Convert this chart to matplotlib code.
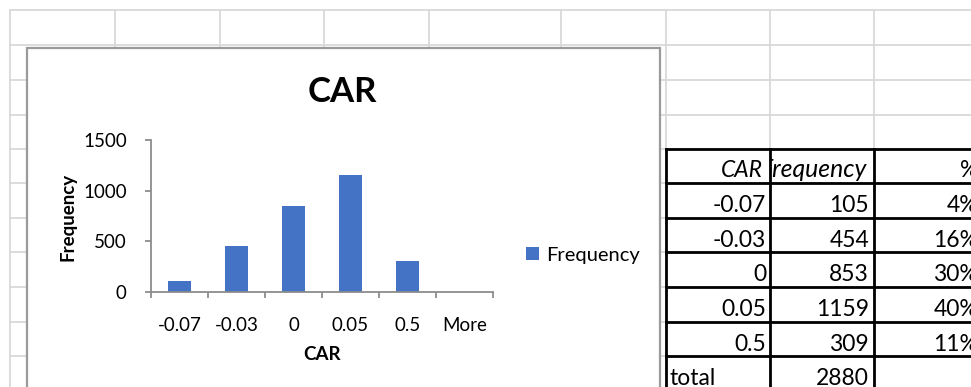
import matplotlib
matplotlib.use("Agg")
import matplotlib.pyplot as plt
from matplotlib.patches import Rectangle
import numpy as np

plt.rcParams["font.family"] = ["Lato", "DejaVu Sans"]

# histogram output: bins and counts
bins = ["-0.07", "-0.03", "0", "0.05", "0.5", "More"]
freq = [105, 454, 853, 1159, 309, 0]
bar_color = "#4472C4"

W, H = 971, 387
fig = plt.figure(figsize=(W / 100, H / 100), dpi=100)

# ---- worksheet layer, coordinates in pixels ----
sheet = fig.add_axes([0, 0, 1, 1])
sheet.set_xlim(0, W)
sheet.set_ylim(H, 0)
sheet.axis("off")

grid_c = "#d9d9d9"
col_x = [10, 115, 220, 324, 429, 561, 666, 770, 874]
row_y = [10, 45, 80, 115, 149, 183, 218, 252, 287, 322, 356]
for x in col_x:
    sheet.plot([x, x], [10, H], color=grid_c, lw=1.3, zorder=1)
for y in row_y:
    sheet.plot([10, W], [y, y], color=grid_c, lw=1.3, zorder=1)

# chart object frame
sheet.add_patch(Rectangle((27, 48), 633, 400, facecolor="white",
                          edgecolor="#9a9a9a", lw=1.6, zorder=2))

# ---- frequency table ----
tbl_left, tbl_cols = 666, [666, 770, 874, 1000]
tbl_rows = [149, 183, 218, 252, 287, 322, 356, 400]
for y in tbl_rows[:-1]:
    sheet.plot([tbl_left, W], [y, y], color="black", lw=2, zorder=3)
for x in tbl_cols[:-1]:
    sheet.plot([x, x], [149, H], color="black", lw=2, zorder=3)

fs_tbl = 16.5
total = sum(freq[:-1])
pct = ["{:.0f}%".format(round(100 * f / total)) for f in freq[:-1]]

sheet.text(763, 149 + 28, "CAR", ha="right", va="baseline",
           fontsize=fs_tbl, style="italic", zorder=4)
# header too wide for its cell: clip it at the cell edge
hdr = sheet.text(867, 149 + 28, "Frequency", ha="right", va="baseline",
                 fontsize=17.8, style="italic", zorder=4)
clip = Rectangle((771, 149), 103, 34, transform=sheet.transData)
hdr.set_clip_path(clip)
hdr.set_clip_on(True)
sheet.text(978, 149 + 28, "%", ha="right", va="baseline",
           fontsize=fs_tbl, zorder=4)

for i in range(len(bins) - 1):
    top = tbl_rows[i + 1]
    sheet.text(766, top + 29, bins[i], ha="right", va="baseline",
               fontsize=fs_tbl, zorder=4)
    sheet.text(869, top + 29, str(freq[i]), ha="right", va="baseline",
               fontsize=fs_tbl, zorder=4)
    sheet.text(978, top + 29, pct[i], ha="right", va="baseline",
               fontsize=fs_tbl, zorder=4)

sheet.text(670, 356 + 29, "total", ha="left", va="baseline",
           fontsize=fs_tbl, zorder=4)
sheet.text(869, 356 + 29, str(total), ha="right", va="baseline",
           fontsize=fs_tbl, zorder=4)

# ---- chart ----
ax_l, ax_r, ax_t, ax_b = 151, 493, 140, 292
ax = fig.add_axes([ax_l / W, (H - ax_b) / H, (ax_r - ax_l) / W, (ax_b - ax_t) / H])
ax.set_facecolor("none")
ax.set_zorder(5)

xpos = np.arange(len(bins))
ax.bar(xpos, freq, width=0.4, color=bar_color, label="Frequency", zorder=2)
ax.set_xlim(-0.5, len(bins) - 0.5)
ax.set_ylim(0, 1500)

axis_c = "#8c8c8c"
for s in ["top", "right"]:
    ax.spines[s].set_visible(False)
for s in ["left", "bottom"]:
    ax.spines[s].set_color(axis_c)
    ax.spines[s].set_linewidth(1.3)

ax.set_yticks([0, 500, 1000, 1500])
ax.tick_params(axis="y", direction="out", length=4.5, width=1.3, color=axis_c,
               labelsize=13.5, pad=13)
ax.set_xticks(np.arange(len(bins) + 1) - 0.5)
ax.set_xticklabels([])
ax.set_xticks(xpos, minor=True)
ax.set_xticklabels(bins, minor=True)
ax.tick_params(axis="x", which="major", direction="out", length=4.5, width=1.3,
               color=axis_c)
ax.tick_params(axis="x", which="minor", length=0, labelsize=13.5, pad=18)

sheet.text(342, 92, "CAR", ha="center", va="center", fontsize=25,
           fontweight="bold", zorder=4)
sheet.text(322, 355, "CAR", ha="center", va="center", fontsize=13.5,
           fontweight="bold", zorder=4)
sheet.text(68, 217, "Frequency", ha="center", va="center", fontsize=13.5,
           fontweight="bold", rotation=90, zorder=4)

ax.legend(loc="center left", bbox_to_anchor=(526, 255),
          bbox_transform=sheet.transData, frameon=False, fontsize=14.5,
          handlelength=0.65, handleheight=0.65, handletextpad=0.35,
          borderpad=0, borderaxespad=0)

fig.savefig("out.png", dpi=100)
